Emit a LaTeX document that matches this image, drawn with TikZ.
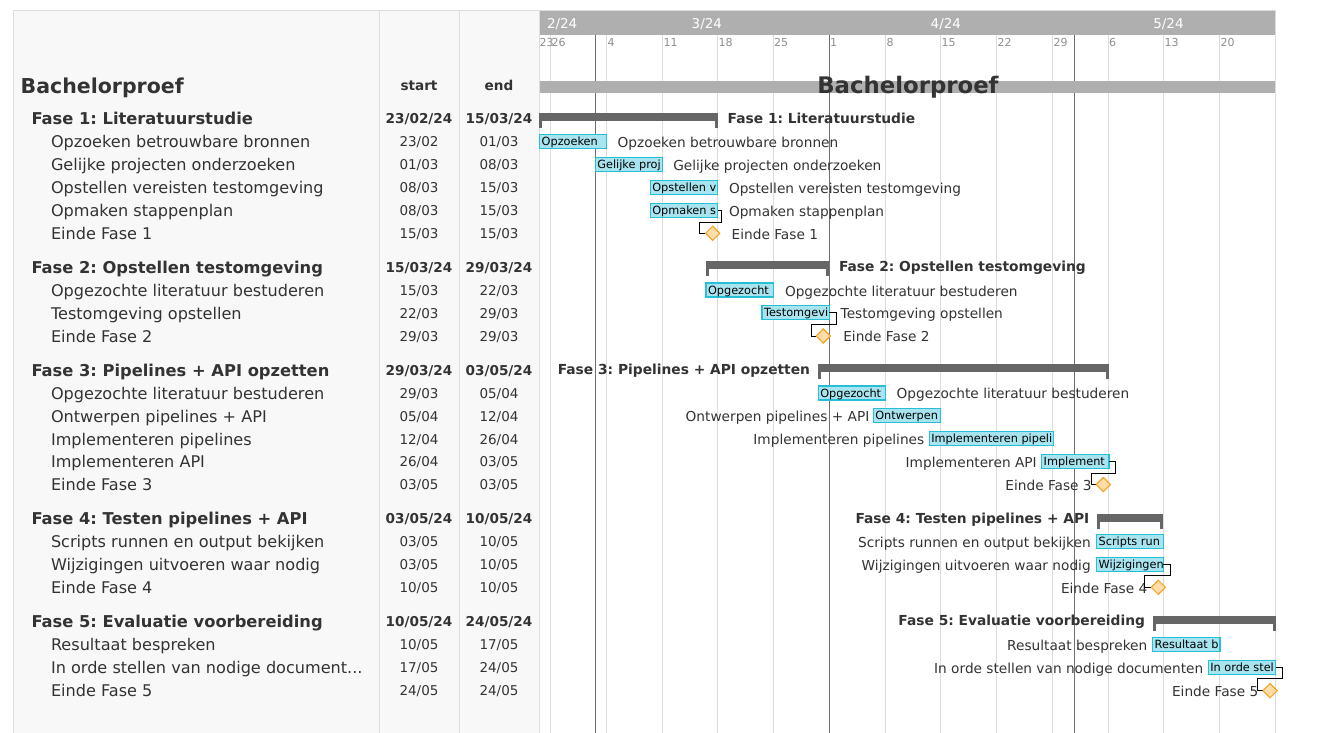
\documentclass[tikz,border=0pt]{standalone}
\usepackage{fontspec}
\setmainfont{DejaVu Sans}
\usetikzlibrary{shapes.geometric,calc}
\frenchspacing
\definecolor{txt}{HTML}{333333}
\definecolor{panel}{HTML}{F8F8F8}
\definecolor{bord}{HTML}{DDDDDD}
\definecolor{gridc}{HTML}{DDDDDD}
\definecolor{darkl}{HTML}{6E6E6E}
\definecolor{hdr}{HTML}{AFAFAF}
\definecolor{phasec}{HTML}{666666}
\definecolor{barfill}{HTML}{A8E4EF}
\definecolor{barline}{HTML}{26BFD6}
\definecolor{msfill}{HTML}{FFDDAA}
\definecolor{msline}{HTML}{F5A623}
\definecolor{daytxt}{HTML}{8F8F8F}
\tikzset{
  clab/.style={inner sep=0pt, outer sep=0pt, text=txt, font=\frenchspacing\fontsize{13.7}{16}\selectfont, text height=10pt, text depth=0pt},
  cbold/.style={inner sep=0pt, outer sep=0pt, text=txt, font=\frenchspacing\fontsize{13.8}{17}\selectfont\bfseries, text height=10.1pt, text depth=0pt},
  treg/.style={inner sep=0pt, outer sep=0pt, text=txt, font=\frenchspacing\fontsize{16.1}{18}\selectfont, text height=11.7pt, text depth=0pt},
  tbold/.style={inner sep=0pt, outer sep=0pt, text=txt, font=\frenchspacing\fontsize{16.3}{19}\selectfont\bfseries, text height=11.9pt, text depth=0pt},
  dreg/.style={inner sep=0pt, outer sep=0pt, text=txt, font=\fontsize{13.5}{16}\selectfont, text height=9.8pt, text depth=0pt},
  dbold/.style={inner sep=0pt, outer sep=0pt, text=txt, font=\fontsize{13.6}{16}\selectfont\bfseries, text height=9.9pt, text depth=0pt},
  bartext/.style={inner sep=0pt, outer sep=0pt, text=black, font=\fontsize{11.3}{13}\selectfont, text height=8.2pt, text depth=0pt},
  daylab/.style={inner sep=0pt, outer sep=0pt, text=daytxt, font=\fontsize{11}{13}\selectfont, text height=8pt, text depth=0pt, anchor=west},
  monlab/.style={inner sep=0pt, outer sep=0pt, text=white, font=\fontsize{13.5}{16}\selectfont, text height=9.8pt, text depth=0pt, anchor=west},
  tbarsty/.style={draw=barline, fill=barfill, line width=1.2pt, minimum height=14pt, inner sep=0pt, outer sep=0pt},
  pbarsty/.style={fill=phasec, draw=none, minimum height=7.5pt, inner sep=0pt, outer sep=0pt},
  ms/.style={diamond, draw=msline, fill=msfill, line width=1pt, minimum width=14pt, minimum height=14pt, inner sep=0pt, outer sep=0pt},
  conn/.style={draw=black, line width=0.9pt},
  gridline/.style={draw=gridc, line width=1pt},
  monthline/.style={draw=darkl, line width=1pt},
}
\newcommand\tbar[5]{%
  \node[tbarsty, anchor=west, minimum width={(#3-#2)*1pt}] (#1) at (#2,#4) {};
  \begin{scope}
    \clip (#1.south west) rectangle (#1.north east);
    \node[bartext, anchor=west] (#1t) at ([xshift=2pt]#1.west) {#5};
  \end{scope}}
\newcommand\pbar[4]{%
  \node[pbarsty, anchor=north west, minimum width={(#3-#2)*1pt}] (#1) at (#2,#4) {};
  \fill[phasec] (#1.south west) rectangle ++(3,7.5);
  \fill[phasec] (#1.south east) rectangle ++(-3,7.5);}
\newcommand\prow[5]{%
  \node[tbold, anchor=west] (n#1) at (31.5,#2) {#3};
  \node[dbold] (s#1) at (419,#2) {#4};
  \node[dbold] (e#1) at (499,#2) {#5};}
\newcommand\srow[5]{%
  \node[treg, anchor=west] (n#1) at (51,#2) {#3};
  \node[dreg] (s#1) at (419,#2) {#4};
  \node[dreg] (e#1) at (499,#2) {#5};}
\begin{document}
\begin{tikzpicture}[x=1pt,y=-1pt]
\useasboundingbox (0,0) rectangle (1325,732);
\fill[white] (0,0) rectangle (1325,732);
% table panel
\draw[bord, fill=panel, line width=1pt] (13,10) rectangle (539,740);
\draw[bord, line width=1pt] (379,10) -- (379,740);
\draw[bord, line width=1pt] (459,10) -- (459,740);
% chart frame
\draw[bord, line width=1pt] (539,10) -- (1275,10) -- (1275,740);
% grid
\foreach \gx in {550.7,606.7,662.7,717.7,773.3,885.7,940.7,996.7,1052.7,1108.3,1163.7,1219.7}
  \draw[gridline] (\gx,35) -- (\gx,740);
\foreach \gx in {595.5,829.3,1074.3}
  \draw[monthline] (\gx,35) -- (\gx,740);
% header
\node[fill=hdr, inner sep=0pt, outer sep=0pt, anchor=north west, minimum width=735.5pt, minimum height=24.5pt] (hd) at (539.5,10.5) {};
\node[monlab] (mo2) at (547,24) {2/24};
\node[monlab] (mo3) at (691.7,24) {3/24};
\node[monlab] (mo4) at (930.7,24) {4/24};
\node[monlab] (mo5) at (1153.3,24) {5/24};
\foreach \dx/\dl [count=\k] in {539.5/23,551.5/26,607.5/4,663.5/11,718.5/18,774/25,830/1,886.5/8,941.5/15,997.5/22,1053.5/29,1109/6,1164.5/13,1220.5/20}
  \node[daylab] (day\k) at (\dx,42.5) {\dl};
% project bar
\node[fill=hdr, inner sep=0pt, outer sep=0pt, anchor=north west, minimum width=735.3pt, minimum height=11.7pt] (bb) at (539.7,81) {};
\node[inner sep=0pt, text=txt, font=\fontsize{22.8}{26}\selectfont\bfseries, text height=16.6pt, text depth=0pt] (bbt) at (908,85.5) {Bachelorproef};
% table header
\node[inner sep=0pt, anchor=west, text=txt, font=\fontsize{20.5}{23}\selectfont\bfseries, text height=14.9pt, text depth=0pt] (tt) at (20.5,86) {Bachelorproef};
\node[dbold] (hs) at (419,85.5) {start};
\node[dbold] (he) at (499,85.5) {end};
% table rows
\prow{1}{118.5}{Fase 1: Literatuurstudie}{23/02/24}{15/03/24}
\srow{11}{142}{Opzoeken betrouwbare bronnen}{23/02}{01/03}
\srow{12}{165}{Gelijke projecten onderzoeken}{01/03}{08/03}
\srow{13}{188}{Opstellen vereisten testomgeving}{08/03}{15/03}
\srow{14}{211}{Opmaken stappenplan}{08/03}{15/03}
\srow{15}{234}{Einde Fase 1}{15/03}{15/03}
\prow{2}{267.5}{Fase 2: Opstellen testomgeving}{15/03/24}{29/03/24}
\srow{21}{291}{Opgezochte literatuur bestuderen}{15/03}{22/03}
\srow{22}{314}{Testomgeving opstellen}{22/03}{29/03}
\srow{23}{337}{Einde Fase 2}{29/03}{29/03}
\prow{3}{370.5}{Fase 3: Pipelines + API opzetten}{29/03/24}{03/05/24}
\srow{31}{394}{Opgezochte literatuur bestuderen}{29/03}{05/04}
\srow{32}{417}{Ontwerpen pipelines + API}{05/04}{12/04}
\srow{33}{439.5}{Implementeren pipelines}{12/04}{26/04}
\srow{34}{462}{Implementeren API}{26/04}{03/05}
\srow{35}{485}{Einde Fase 3}{03/05}{03/05}
\prow{4}{519}{Fase 4: Testen pipelines + API}{03/05/24}{10/05/24}
\srow{41}{542}{Scripts runnen en output bekijken}{03/05}{10/05}
\srow{42}{565}{Wijzigingen uitvoeren waar nodig}{03/05}{10/05}
\srow{43}{588}{Einde Fase 4}{10/05}{10/05}
\prow{5}{621.5}{Fase 5: Evaluatie voorbereiding}{10/05/24}{24/05/24}
\srow{51}{645}{Resultaat bespreken}{10/05}{17/05}
\srow{52}{668}{In orde stellen van nodige document...}{17/05}{24/05}
\srow{53}{691}{Einde Fase 5}{24/05}{24/05}
% ---- Fase 1 chart
\pbar{p1}{539.3}{717.7}{113.3}
\node[cbold, anchor=west] (pl1) at (727.7,118.5) {Fase 1: Literatuurstudie};
\tbar{b11}{539.7}{606.7}{141.7}{Opzoeken}
\node[clab, anchor=west] (l11) at (617.7,142) {Opzoeken betrouwbare bronnen};
\tbar{b12}{595.3}{662.7}{164.5}{Gelijke proj}
\node[clab, anchor=west] (l12) at (673.3,165) {Gelijke projecten onderzoeken};
\tbar{b13}{650.3}{717.7}{187.2}{Opstellen v}
\node[clab, anchor=west] (l13) at (729,188) {Opstellen vereisten testomgeving};
\tbar{b14}{650.3}{717.7}{210.2}{Opmaken s}
\node[clab, anchor=west] (l14) at (729,211) {Opmaken stappenplan};
\node[ms] (m1) at (712.7,233.3) {};
\node[clab, anchor=west] (l15) at (731.7,234) {Einde Fase 1};
% ---- Fase 2 chart
\pbar{p2}{706}{829.3}{261}
\node[cbold, anchor=west] (pl2) at (839,266) {Fase 2: Opstellen testomgeving};
\tbar{b21}{706}{773.3}{290}{Opgezocht}
\node[clab, anchor=west] (l21) at (785,291) {Opgezochte literatuur bestuderen};
\tbar{b22}{762}{829.3}{312.7}{Testomgevi}
\node[clab, anchor=west] (l22) at (840.7,313.5) {Testomgeving opstellen};
\node[ms] (m2) at (823.3,336) {};
\node[clab, anchor=west] (l23) at (843.3,336.5) {Einde Fase 2};
% ---- Fase 3 chart
\pbar{p3}{818.3}{1109}{364.3}
\node[cbold, anchor=east] (pl3) at (810,369.5) {Fase 3: Pipelines + API opzetten};
\tbar{b31}{818.3}{885.7}{393}{Opgezocht}
\node[clab, anchor=west] (l31) at (896.7,393.5) {Opgezochte literatuur bestuderen};
\tbar{b32}{873.3}{940.7}{415.8}{Ontwerpen}
\node[clab, anchor=east] (l32) at (869.3,416.5) {Ontwerpen pipelines + API};
\tbar{b33}{929.3}{1053.3}{438.7}{Implementeren pipeli}
\node[clab, anchor=east] (l33) at (924.3,439) {Implementeren pipelines};
\tbar{b34}{1041.7}{1109}{461.3}{Implement}
\node[clab, anchor=east] (l34) at (1036.7,462) {Implementeren API};
\node[ms] (m3) at (1103.3,484.5) {};
\node[clab, anchor=east] (l35) at (1091.7,485) {Einde Fase 3};
% ---- Fase 4 chart
\pbar{p4}{1096.7}{1163.3}{514}
\node[cbold, anchor=east] (pl4) at (1089.3,518.5) {Fase 4: Testen pipelines + API};
\tbar{b41}{1096.7}{1163.3}{541.8}{Scripts run}
\node[clab, anchor=east] (l41) at (1090.7,542) {Scripts runnen en output bekijken};
\tbar{b42}{1096.7}{1163.3}{564.5}{Wijzigingen}
\node[clab, anchor=east] (l42) at (1090.7,565) {Wijzigingen uitvoeren waar nodig};
\node[ms] (m4) at (1158.3,587.3) {};
\node[clab, anchor=east] (l43) at (1147.3,588) {Einde Fase 4};
% ---- Fase 5 chart
\pbar{p5}{1152.7}{1275.7}{616}
\node[cbold, anchor=east] (pl5) at (1145,620.5) {Fase 5: Evaluatie voorbereiding};
\tbar{b51}{1152.7}{1220}{644.7}{Resultaat b}
\node[clab, anchor=east] (l51) at (1147.3,645) {Resultaat bespreken};
\tbar{b52}{1208.3}{1275.7}{667.2}{In orde stel}
\node[clab, anchor=east] (l52) at (1203.3,668) {In orde stellen van nodige documenten};
\node[ms] (m5) at (1270,690.7) {};
\node[clab, anchor=east] (l53) at (1258.3,691) {Einde Fase 5};
% connectors
\draw[conn] (b14.east) -- ++(3.5,0) -- ++(0,12) -| ([xshift=-6.4pt]m1.west) -- (m1.west);
\draw[conn] (b22.east) -- ++(7.4,0) -- ++(0,11.3) -| ([xshift=-5pt]m2.west) -- (m2.west);
\draw[conn] (b34.east) -- ++(6,0) -- ++(0,12) -| ([xshift=-5.3pt]m3.west) -- (m3.west);
\draw[conn] (b42.east) -- ++(6.7,0) -- ++(0,11.4) -| ([xshift=-6.7pt]m4.west) -- (m4.west);
\draw[conn] (b52.east) -- ++(7,0) -- ++(0,11) -| ([xshift=-5.4pt]m5.west) -- (m5.west);
% milestones on top of connectors
\node[ms] (m1b) at (m1) {};
\node[ms] (m2b) at (m2) {};
\node[ms] (m3b) at (m3) {};
\node[ms] (m4b) at (m4) {};
\node[ms] (m5b) at (m5) {};
\end{tikzpicture}
\end{document}
